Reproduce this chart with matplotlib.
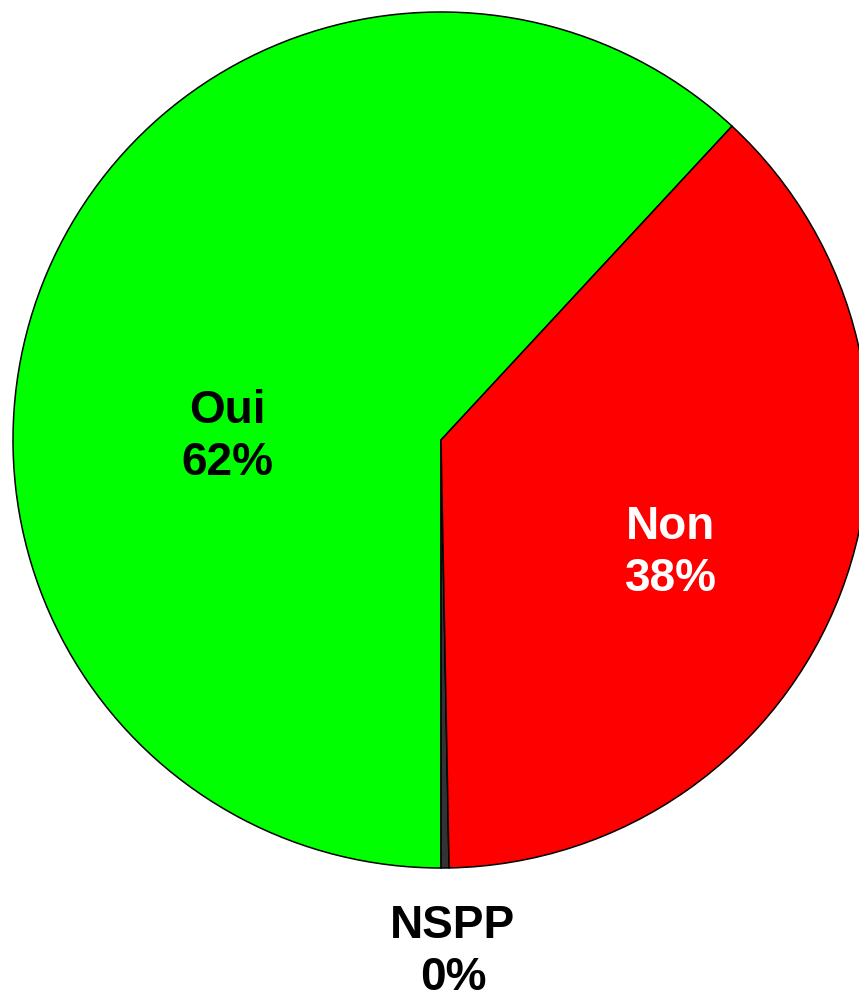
import matplotlib.pyplot as plt

labels = ["Oui", "NSPP", "Non"]
values = [61.9, 0.3, 37.8]
shown_pct = ["62%", "0%", "38%"]
colors = ["#00FF00", "#333333", "#FF0000"]
text_colors = ["black", "black", "white"]
# label centres in axes data units (radius = 1)
label_pos = [(-0.498, 0.007), (0.028, -1.196), (0.537, -0.264)]

plt.rcParams["font.family"] = ["Liberation Sans", "DejaVu Sans"]

fig = plt.figure(figsize=(8.59, 9.99), dpi=100, facecolor="white")
ax = fig.add_axes([0, 0, 1, 1])

r_px = 428.0
cx, cy = 441.0, 440.0
# Oui wedge ends pointing straight down
start = 270 - values[0] / sum(values) * 360
ax.pie(
    values,
    colors=colors,
    startangle=start,
    counterclock=True,
    radius=1.0,
    wedgeprops={"edgecolor": "black", "linewidth": 1.1},
)

for lab, pct, col, (x, y) in zip(labels, shown_pct, text_colors, label_pos):
    ax.text(x, y, lab + "\n" + pct, ha="center", va="center",
            fontsize=33, fontweight="bold", color=col, linespacing=1.25)

ax.set_xlim(-cx / r_px, (859 - cx) / r_px)
ax.set_ylim(-(999 - cy) / r_px, cy / r_px)
ax.set_aspect("equal")
ax.axis("off")

fig.savefig("out.png", dpi=100, facecolor="white")
